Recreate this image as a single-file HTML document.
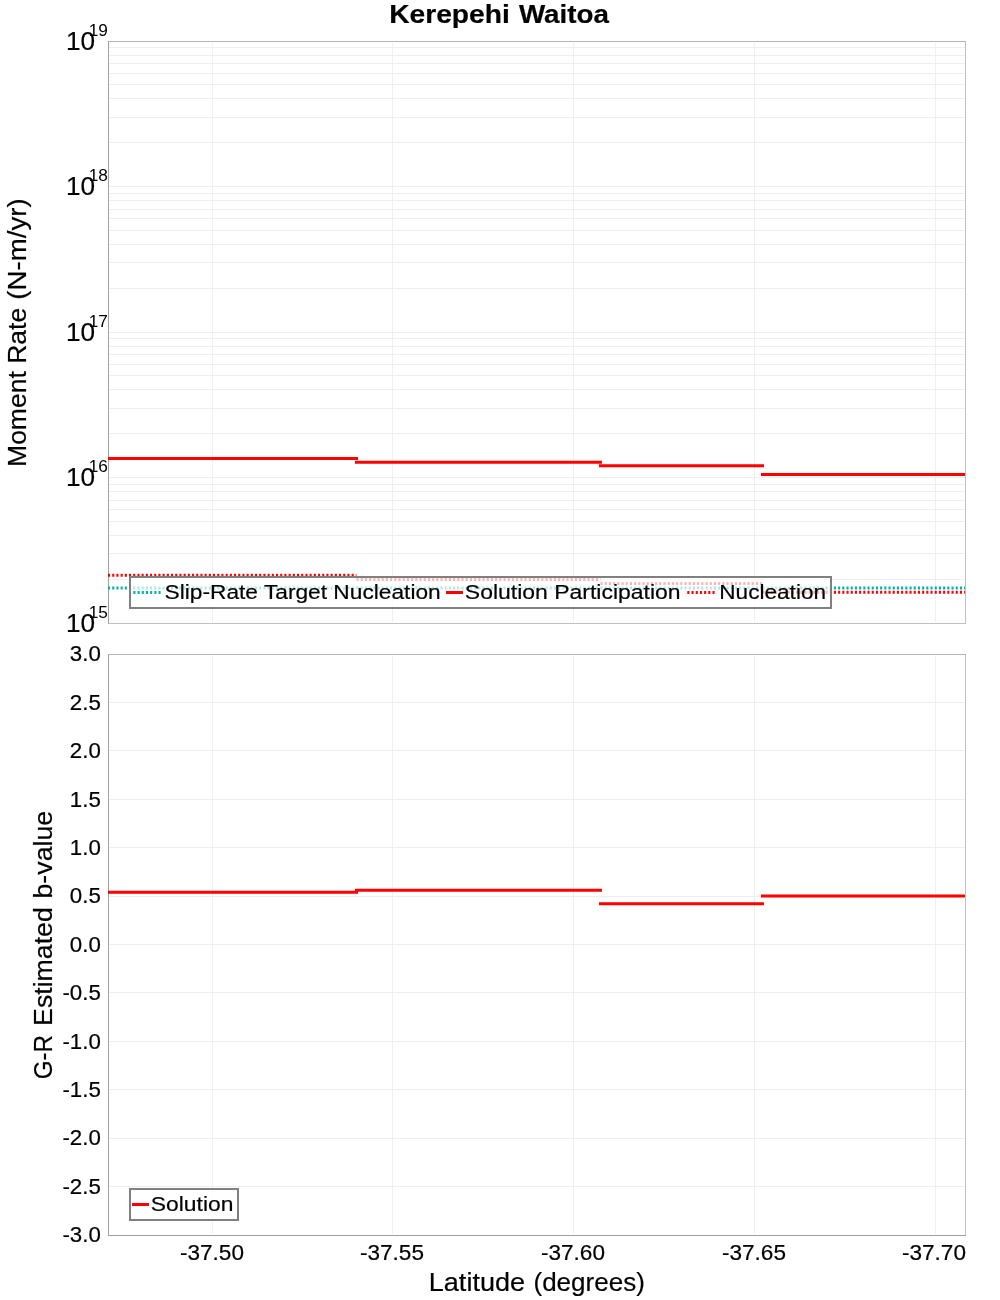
<!DOCTYPE html><html><head><meta charset="utf-8"><title>Kerepehi Waitoa</title><style>html,body{margin:0;padding:0;background:#fff;overflow:hidden;}svg{display:block;}text{font-family:"Liberation Sans",sans-serif;fill:#000;}.t{opacity:0.999}.t text{stroke:#000;stroke-width:0.2px;}</style></head><body>
<svg width="1000" height="1300" viewBox="0 0 1000 1300">
<rect x="0" y="0" width="1000" height="1300" fill="#fff"/>
<path d="M212.5 43V622 M212.5 656V1234 M392.5 43V622 M392.5 656V1234 M573.5 43V622 M573.5 656V1234 M754.5 43V622 M754.5 656V1234 M935.5 43V622 M935.5 656V1234" stroke="#f0f0f0" stroke-width="1" fill="none"/>
<path d="M109 579.5H965 M109 553.5H965 M109 535.5H965 M109 521.5H965 M109 509.5H965 M109 500.5H965 M109 491.5H965 M109 484.5H965 M109 477.5H965 M109 433.5H965 M109 408.5H965 M109 389.5H965 M109 375.5H965 M109 364.5H965 M109 354.5H965 M109 346.5H965 M109 338.5H965 M109 332.5H965 M109 288.5H965 M109 262.5H965 M109 244.5H965 M109 230.5H965 M109 218.5H965 M109 209.5H965 M109 200.5H965 M109 193.5H965 M109 186.5H965 M109 142.5H965 M109 117.5H965 M109 98.5H965 M109 84.5H965 M109 73.5H965 M109 63.5H965 M109 55.5H965 M109 47.5H965 M109 702.5H965 M109 750.5H965 M109 799.5H965 M109 847.5H965 M109 896.5H965 M109 944.5H965 M109 992.5H965 M109 1041.5H965 M109 1089.5H965 M109 1138.5H965 M109 1186.5H965" stroke="#efefef" stroke-width="1" fill="none"/>
<path d="M108 41.5H966" stroke="#b6b6b6" stroke-width="1" fill="none"/>
<path d="M965.5 42V624" stroke="#c0c0c0" stroke-width="1" fill="none"/>
<path d="M109 623.5H965" stroke="#c0c0c0" stroke-width="1" fill="none"/>
<path d="M108.5 41V624" stroke="#a0a0a0" stroke-width="1" fill="none"/>
<path d="M108 654.5H966" stroke="#b6b6b6" stroke-width="1" fill="none"/>
<path d="M965.5 655V1236" stroke="#c0c0c0" stroke-width="1" fill="none"/>
<path d="M108 1235.5H966" stroke="#a0a0a0" stroke-width="1" fill="none"/>
<path d="M108.5 654V1236" stroke="#a0a0a0" stroke-width="1" fill="none"/>
<path d="M108 588H356.5" stroke="#00b2b2" stroke-width="3" fill="none" stroke-dasharray="2.1 2.1"/>
<path d="M356.5 588H600.5" stroke="#00b2b2" stroke-width="3" fill="none" stroke-dasharray="2.1 2.1"/>
<path d="M600.5 588H762.5" stroke="#00b2b2" stroke-width="3" fill="none" stroke-dasharray="2.1 2.1"/>
<path d="M762.5 588H965" stroke="#00b2b2" stroke-width="3" fill="none" stroke-dasharray="2.1 2.1"/>
<path d="M108 575.2H356.5" stroke="#ff0000" stroke-width="3" fill="none" stroke-dasharray="2.1 2.1"/>
<path d="M356.5 579.5H600.5" stroke="#ff0000" stroke-width="3" fill="none" stroke-dasharray="2.1 2.1"/>
<path d="M600.5 583.5H762.5" stroke="#ff0000" stroke-width="3" fill="none" stroke-dasharray="2.1 2.1"/>
<path d="M762.5 592.2H965" stroke="#ff0000" stroke-width="3" fill="none" stroke-dasharray="2.1 2.1"/>
<path d="M108 458.4H358.0" stroke="#ff0000" stroke-width="3" fill="none"/>
<path d="M355.0 462.3H602.0" stroke="#ff0000" stroke-width="3" fill="none"/>
<path d="M599.0 465.8H764.0" stroke="#ff0000" stroke-width="3" fill="none"/>
<path d="M761.0 474.5H965" stroke="#ff0000" stroke-width="3" fill="none"/>
<rect x="130" y="577" width="701" height="31" fill="rgba(255,255,255,0.7)" stroke="#808080" stroke-width="2"/>
<path d="M133.35 592.5H161" stroke="#00b2b2" stroke-width="3" fill="none" stroke-dasharray="2.1 2.1"/>
<path d="M446 592.5H463" stroke="#ff0000" stroke-width="3" fill="none"/>
<path d="M687.3 592.5H715.5" stroke="#ff0000" stroke-width="3" fill="none" stroke-dasharray="2.1 2.1"/>
<path d="M108 892.25H358.0" stroke="#ff0000" stroke-width="3" fill="none"/>
<path d="M355.0 890.25H602.0" stroke="#ff0000" stroke-width="3" fill="none"/>
<path d="M599.0 903.7H764.0" stroke="#ff0000" stroke-width="3" fill="none"/>
<path d="M761.0 896.1H965" stroke="#ff0000" stroke-width="3" fill="none"/>
<rect x="130" y="1189" width="108" height="31" fill="rgba(255,255,255,0.7)" stroke="#808080" stroke-width="2"/>
<path d="M132 1204.5H149" stroke="#ff0000" stroke-width="3" fill="none"/>
<g class="t">
<text transform="translate(389.13 23.00) scale(1.1064 1.0000)" font-size="25.5" font-weight="bold">Kerepehi</text>
<text transform="translate(518.91 23.00) scale(1.0889 1.0000)" font-size="25.5" font-weight="bold">Waitoa</text>
<text transform="translate(428.76 1291.00) scale(1.0622 1.0083)" font-size="25.5">Latitude</text>
<text transform="translate(533.46 1291.00) scale(1.0211 1.0083)" font-size="25.5">(degrees)</text>
<text transform="translate(180.00 1260.00) scale(1.0741 1.0688)" font-size="21.0">-37.50</text>
<text transform="translate(360.00 1260.00) scale(1.0741 1.0688)" font-size="21.0">-37.55</text>
<text transform="translate(541.00 1260.00) scale(1.0741 1.0688)" font-size="21.0">-37.60</text>
<text transform="translate(722.00 1260.00) scale(1.0741 1.0688)" font-size="21.0">-37.65</text>
<text transform="translate(902.00 1260.00) scale(1.0741 1.0688)" font-size="21.0">-37.70</text>
<text transform="translate(100.79 661.00) scale(1.0616 1.0639)" font-size="21.0" text-anchor="end">3.0</text>
<text transform="translate(100.79 710.20) scale(1.0616 1.0639)" font-size="21.0" text-anchor="end">2.5</text>
<text transform="translate(100.79 758.30) scale(1.0616 1.0639)" font-size="21.0" text-anchor="end">2.0</text>
<text transform="translate(100.79 807.10) scale(1.0616 1.0639)" font-size="21.0" text-anchor="end">1.5</text>
<text transform="translate(100.79 855.10) scale(1.0616 1.0639)" font-size="21.0" text-anchor="end">1.0</text>
<text transform="translate(100.79 903.10) scale(1.0616 1.0639)" font-size="21.0" text-anchor="end">0.5</text>
<text transform="translate(100.79 951.90) scale(1.0616 1.0639)" font-size="21.0" text-anchor="end">0.0</text>
<text transform="translate(100.79 999.90) scale(1.0616 1.0639)" font-size="21.0" text-anchor="end">-0.5</text>
<text transform="translate(100.79 1049.10) scale(1.0616 1.0639)" font-size="21.0" text-anchor="end">-1.0</text>
<text transform="translate(100.79 1096.90) scale(1.0616 1.0639)" font-size="21.0" text-anchor="end">-1.5</text>
<text transform="translate(100.79 1144.90) scale(1.0616 1.0639)" font-size="21.0" text-anchor="end">-2.0</text>
<text transform="translate(100.79 1194.20) scale(1.0616 1.0639)" font-size="21.0" text-anchor="end">-2.5</text>
<text transform="translate(100.79 1241.80) scale(1.0616 1.0639)" font-size="21.0" text-anchor="end">-3.0</text>
<text transform="translate(65.90 49.80) scale(1.0277 0.9939)" font-size="25.5">10</text>
<text style="stroke:none" transform="translate(88.65 35.60) scale(1.0177 1.0000)" font-size="17.0">19</text>
<text transform="translate(65.90 195.30) scale(1.0277 0.9939)" font-size="25.5">10</text>
<text style="stroke:none" transform="translate(88.65 181.10) scale(1.0177 1.0000)" font-size="17.0">18</text>
<text transform="translate(65.90 340.80) scale(1.0277 0.9939)" font-size="25.5">10</text>
<text style="stroke:none" transform="translate(88.65 326.60) scale(1.0177 1.0000)" font-size="17.0">17</text>
<text transform="translate(65.90 486.30) scale(1.0277 0.9939)" font-size="25.5">10</text>
<text style="stroke:none" transform="translate(88.65 472.10) scale(1.0177 1.0000)" font-size="17.0">16</text>
<text transform="translate(65.90 631.80) scale(1.0277 0.9939)" font-size="25.5">10</text>
<text style="stroke:none" transform="translate(88.65 617.60) scale(1.0177 1.0000)" font-size="17.0">15</text>
<text transform="translate(26.32 466.94) rotate(-90) scale(1.0398 1.0138)" font-size="25.5">Moment Rate</text>
<text transform="translate(26.32 299.64) rotate(-90) scale(1.0847 1.0138)" font-size="25.5">(N-m/yr)</text>
<text transform="translate(51.66 1079.32) rotate(-90) scale(0.9511 1.0080)" font-size="25.5">G-R</text>
<text transform="translate(51.66 1025.88) rotate(-90) scale(1.0471 1.0080)" font-size="25.5">Estimated</text>
<text transform="translate(51.66 898.50) rotate(-90) scale(1.0490 1.0080)" font-size="25.5">b-value</text>
<text transform="translate(164.56 599.00) scale(1.0826 0.9942)" font-size="21.0">Slip-Rate Target Nucleation</text>
<text transform="translate(464.82 599.00) scale(1.0943 0.9942)" font-size="21.0">Solution Participation</text>
<text transform="translate(719.27 599.00) scale(1.0763 0.9942)" font-size="21.0">Nucleation</text>
<text transform="translate(150.84 1211.00) scale(1.0881 0.9897)" font-size="21.0">Solution</text>
</g>
</svg></body></html>
